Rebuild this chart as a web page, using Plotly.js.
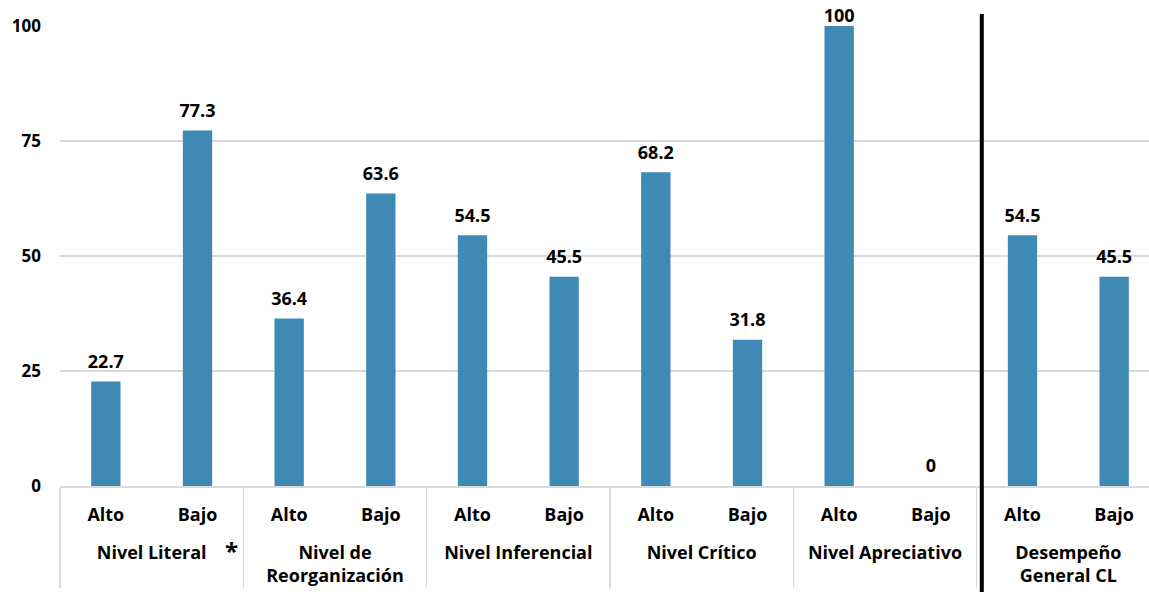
<!DOCTYPE html>
<html>
<head>
<meta charset="utf-8">
<script src="https://cdn.plot.ly/plotly-3.0.1.min.js"></script>
<style>
html,body{margin:0;padding:0;overflow:hidden;background:#fff;}
#chart{width:1160px;height:600px;}
</style>
</head>
<body>
<div id="chart"></div>
<script>
const groups = ["Nivel Literal","Nivel Literal","Nivel de<br>Reorganización","Nivel de<br>Reorganización",
  "Nivel Inferencial","Nivel Inferencial","Nivel Crítico","Nivel Crítico",
  "Nivel Apreciativo","Nivel Apreciativo","Desempeño<br>General CL","Desempeño<br>General CL"];
const levels = ["Alto","Bajo","Alto","Bajo","Alto","Bajo","Alto","Bajo","Alto","Bajo","Alto","Bajo"];
const values = [22.7,77.3,36.4,63.6,54.5,45.5,68.2,31.8,100,0,54.5,45.5];
const valueLabels = ["22.7","77.3","36.4","63.6","54.5","45.5","68.2","31.8","100","0","54.5","45.5"];
const yTicks = [0,25,50,75,100];

const FONT = "'Open Sans', Lato, sans-serif";
const groupLabels = groups.map(g => "\u00a0<br>" + g);
const yMax = 100;

const bars = {
  type: "bar",
  x: [groupLabels, levels],
  y: values,
  marker: {color: "#3f8ab5", line: {width: 0}},
  width: 0.32,
  hoverinfo: "skip"
};

const labels = {
  type: "scatter",
  mode: "markers+text",
  x: [groupLabels, levels],
  y: values,
  text: valueLabels,
  textposition: "top center",
  cliponaxis: false,
  marker: {size: values.map(v => v >= yMax ? 0 : 13), color: "rgba(0,0,0,0)", line: {width: 0}},
  textfont: {family: FONT, size: 18, color: "#000", weight: 700},
  hoverinfo: "skip"
};

const layout = {
  width: 1160, height: 600,
  margin: {l: 60, r: 0, t: 26, b: 114},
  paper_bgcolor: "#fff", plot_bgcolor: "#fff",
  showlegend: false,
  font: {family: FONT, size: 18, color: "#000", weight: 700},
  xaxis: {
    type: "multicategory",
    range: [-0.5, 11.5],
    showline: true, linecolor: "#d9d9d9", linewidth: 2,
    showdividers: true, dividercolor: "#d9d9d9", dividerwidth: 1.5,
    tickfont: {family: FONT, size: 18, color: "#000", weight: 700},
    ticklabelstandoff: 11,
    fixedrange: true
  },
  yaxis: {
    range: [0, yMax],
    tickvals: yTicks,
    ticktext: yTicks.map(String),
    showgrid: true, gridcolor: "#d9d9d9", gridwidth: 1.5,
    zeroline: false, showline: false,
    tickfont: {family: FONT, size: 17, color: "#000", weight: 700},
    ticklabelstandoff: 18
  },
  shapes: [{
    type: "line", xref: "paper", yref: "paper",
    x0: 0.838, x1: 0.838, y0: -0.25, y1: 1.026,
    line: {color: "#000", width: 4}
  }],
  annotations: [{
    text: "*", xref: "paper", yref: "paper",
    x: 0.1555, y: -0.1065, yanchor: "top", showarrow: false,
    xshift: -8, yshift: 3,
    font: {family: FONT, size: 24, color: "#000", weight: 700}
  }]
};

Plotly.newPlot("chart", [bars, labels], layout, {displayModeBar: false, staticPlot: true});
</script>
</body>
</html>
